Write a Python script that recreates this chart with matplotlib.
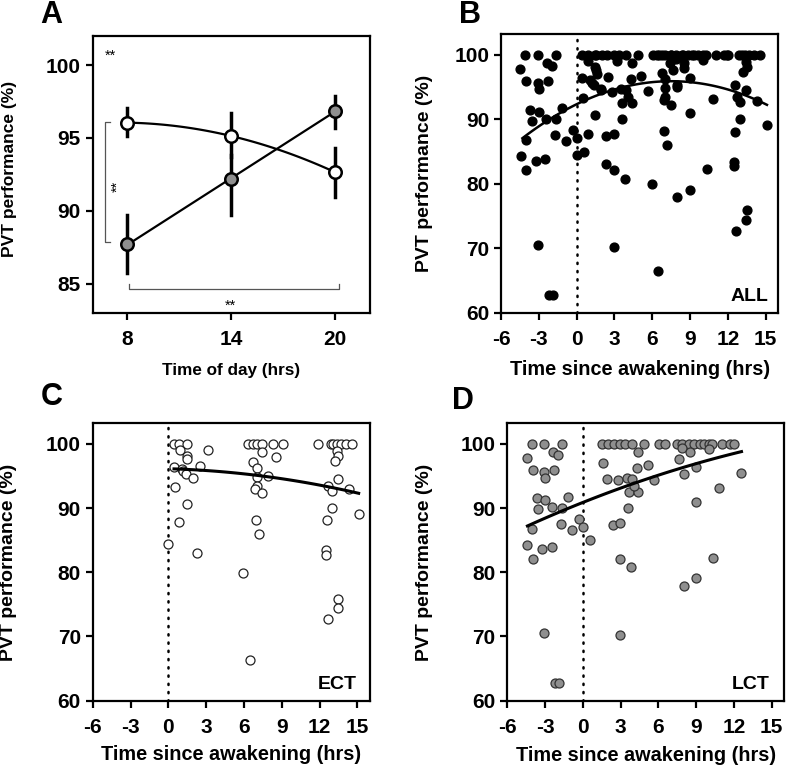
import matplotlib
matplotlib.use("Agg")
import matplotlib.pyplot as plt
import numpy as np

plt.rcParams['font.family'] = ['Liberation Sans', 'DejaVu Sans']
plt.rcParams['axes.unicode_minus'] = False

# Panel A: means and error bars by time of day
tod = [8, 14, 20]
ect_mean = [96.05, 95.13, 92.64]
ect_lo = [95.13, 93.7, 90.92]
ect_hi = [97.04, 96.7, 94.29]
lct_mean = [87.7, 92.17, 96.86]
lct_lo = [85.73, 89.7, 95.71]
lct_hi = [89.7, 93.8, 97.91]

# ECT individual points (time since awakening, PVT %)
ect_x = [0.45, 0.87, 1.46, 0.93, 3.17, 1.46, 1.5, 0.45, 1.06, 1.19, 1.4, 1.94, 2.52,
         0.53, 1.46, 0.87, 0.0, 2.3,
         6.35, 6.75, 7.0, 7.46, 8.34, 9.13, 7.4, 8.52, 6.75, 7.0, 7.0, 7.94, 7.0, 6.9,
         7.46, 6.96, 7.2, 5.95, 6.48,
         11.9, 12.9, 13.1, 13.35, 13.7, 14.1, 14.55, 13.4, 13.5, 13.23, 13.44, 12.7,
         12.97, 14.3, 15.1, 12.97, 12.57, 12.5, 12.5, 13.5, 13.44, 12.65]
ect_y = [100, 100, 100, 99.1, 99.1, 98.1, 97.7, 96.4, 96.1, 95.7, 95.3, 94.7, 96.5,
         93.25, 90.7, 87.8, 84.45, 83.0,
         100, 100, 100, 100, 100, 100, 98.7, 97.9, 97.25, 96.3, 94.8, 95.0, 93.4, 93.0,
         92.3, 88.2, 86.0, 79.9, 66.4,
         100, 100, 100, 100, 100, 100, 100, 98.96, 98.1, 97.3, 94.6, 93.5,
         92.7, 92.9, 89.1, 90.0, 88.1, 83.4, 82.7, 75.9, 74.4, 72.7]

# LCT individual points
lct_x = [-4.06, -3.05, -1.67,
         1.55, 1.99, 2.44, 2.93, 3.38, 3.9, 4.83,
         6.02, 6.56, 7.48, 7.88, 8.41, 8.81, 9.34, 9.6, 10.0, 10.27, 11.06, 11.72, 12.04,
         -4.46, -2.34, -1.99, -3.98, -3.05, -3.0, -2.26,
         -3.66, -3.0, -3.53, -2.42, -1.15, -1.67,
         -4.0, -1.75, -0.88, -0.29, 0.05, 0.58,
         -4.4, -3.26, -2.47, -3.98,
         -3.05, -2.2, -1.86,
         1.59, 1.91, 2.78, 3.5, 3.9, 3.63, 4.37, 4.1, 4.3, 4.37,
         3.6, 2.36, 2.97, 2.97, 3.84, 2.97,
         5.14, 5.67,
         7.88, 8.48, 10.0, 7.61, 9.02, 8.0, 12.57, 10.84, 9.02,
         8.0, 8.99, 10.34]
lct_y = [100, 100, 100,
         100, 100, 100, 100, 100, 100, 100,
         100, 100, 100, 100, 100, 100, 100, 100, 100, 100, 100, 100, 100,
         97.8, 98.7, 98.3, 96.0, 95.6, 94.7, 96.0,
         91.5, 91.2, 89.8, 90.1, 91.7, 90.0,
         86.8, 87.5, 86.6, 88.3, 87.1, 85.0,
         84.3, 83.6, 83.9, 82.1,
         70.5, 62.7, 62.8,
         97.0, 94.6, 94.3, 94.7, 94.6, 92.5, 92.5, 93.4, 96.2, 98.7,
         90.0, 87.4, 87.7, 82.1, 80.8, 70.2,
         96.7, 94.4,
         99.3, 98.8, 99.2, 97.6, 96.4, 95.3, 95.4, 93.1, 91.0,
         77.9, 79.1, 82.3]

# fitted curves (anchor points)
fit_all_x = [-4.3, 0, 7.6, 15.1]
fit_all_y = [87.2, 92.1, 96.1, 92.2]
fit_ect_x = [0.45, 7.0, 15.1]
fit_ect_y = [96.1, 95.1, 92.3]
fit_lct_x = [-4.4, 0, 6.0, 12.6]
fit_lct_y = [87.2, 90.9, 95.1, 98.8]

xticks_tsa = [-6, -3, 0, 3, 6, 9, 12, 15]
yticks_tsa = [60, 70, 80, 90, 100]

gray = '#8f8f8f'
W, H = 787, 768
fig = plt.figure(figsize=(W / 100, H / 100), dpi=100)


def box(ax):
    for s in ax.spines.values():
        s.set_linewidth(1.6)
    ax.tick_params(direction='out', length=5, width=1.6)
    ax.tick_params(axis='x', pad=7.5)
    ax.tick_params(axis='y', pad=3.5)
    for lab in ax.get_xticklabels() + ax.get_yticklabels():
        lab.set_fontweight('bold')


def ax_px(l, t, r, b):
    return fig.add_axes([l / W, 1 - b / H, (r - l) / W, (b - t) / H])


# ---- Panel A
axA = ax_px(92.7, 36, 370, 312.7)
axA.set_xlim(6, 22)
axA.set_ylim(83, 102)
axA.set_xticks(tod)
axA.set_yticks([85, 90, 95, 100])
axA.tick_params(labelsize=15)
xs = np.linspace(8, 20, 100)
axA.plot(xs, np.polyval(np.polyfit(tod, ect_mean, 2), xs), color='black', lw=1.6, zorder=2)
axA.plot(xs, np.polyval(np.polyfit(tod, lct_mean, 1), xs), color='black', lw=1.6, zorder=2)
for i in range(3):
    axA.plot([tod[i], tod[i]], [ect_lo[i], ect_hi[i]], color='black', lw=2.5, zorder=1)
    axA.plot([tod[i], tod[i]], [lct_lo[i], lct_hi[i]], color='black', lw=2.5, zorder=1)
axA.plot(tod, ect_mean, 'o', ms=9, mfc='white', mec='black', mew=1.8, zorder=3)
axA.plot(tod, lct_mean, 'o', ms=9, mfc=gray, mec='black', mew=1.8, zorder=3)
# significance brackets
axA.plot([7.0, 6.73, 6.73, 7.0], [96.1, 96.1, 87.84, 87.84], color='#555555', lw=0.9)
axA.plot([8.1, 8.1, 20.2, 20.2], [84.95, 84.61, 84.61, 84.95], color='#555555', lw=0.9)
axA.text(7.0, 100.65, '**', fontsize=10.5, ha='center', va='center')
axA.text(7.45, 91.65, '**', fontsize=10.5, ha='center', va='center', rotation=90)
axA.text(13.95, 83.5, '**', fontsize=10.5, ha='center', va='center')
axA.set_ylabel('PVT performance (%)', fontsize=12.5, fontweight='bold')
axA.set_xlabel('Time of day (hrs)', fontsize=12.3, fontweight='bold')
axA.yaxis.set_label_coords(-0.273, 0.521)
axA.xaxis.set_label_coords(0.5, -0.182)
box(axA)


def tsa_panel(ax, label, lx, yl_x, xl_y):
    ax.set_xlim(-6, 16)
    ax.set_ylim(60, 103.2)
    ax.set_xticks(xticks_tsa)
    ax.set_yticks(yticks_tsa)
    ax.tick_params(labelsize=15)
    ax.axvline(0, color='black', lw=1.8, linestyle=(0, (0.5, 2.8)), dash_capstyle='round', zorder=1)
    ax.text(lx, 0.042, label, transform=ax.transAxes, ha='right', va='baseline',
            fontsize=14, fontweight='bold')
    ax.set_ylabel('PVT performance (%)', fontsize=14, fontweight='bold')
    ax.set_xlabel('Time since awakening (hrs)', fontsize=14.3, fontweight='bold')
    ax.yaxis.set_label_coords(yl_x, 0.5)
    ax.xaxis.set_label_coords(0.5, xl_y)
    box(ax)


# ---- Panel B (all subjects)
axB = ax_px(501, 34.3, 778.3, 312.7)
axB.scatter(ect_x + lct_x, ect_y + lct_y, s=40, color='black', zorder=3)
xs = np.linspace(fit_all_x[0], fit_all_x[-1], 100)
axB.plot(xs, np.polyval(np.polyfit(fit_all_x, fit_all_y, 2), xs), color='black', lw=1.8, zorder=4)
tsa_panel(axB, 'ALL', 0.963, -0.245, -0.170)

# ---- Panel C (ECT)
axC = ax_px(92.7, 423.3, 370, 700.7)
axC.scatter(ect_x, ect_y, s=42, facecolor='white', edgecolor='#222222', lw=0.9, zorder=3)
xs = np.linspace(fit_ect_x[0], fit_ect_x[-1], 100)
axC.plot(xs, np.polyval(np.polyfit(fit_ect_x, fit_ect_y, 2), xs), color='black', lw=2.2, zorder=4)
tsa_panel(axC, 'ECT', 0.952, -0.273, -0.160)

# ---- Panel D (LCT)
axD = ax_px(507.3, 423.3, 784.3, 700.7)
axD.scatter(lct_x, lct_y, s=42, facecolor=gray, edgecolor='#333333', lw=0.9, zorder=3)
xs = np.linspace(fit_lct_x[0], fit_lct_x[-1], 100)
axD.plot(xs, np.polyval(np.polyfit(fit_lct_x, fit_lct_y, 2), xs), color='black', lw=2.2, zorder=4)
tsa_panel(axD, 'LCT', 0.948, -0.269, -0.162)

# panel letters
for lab, x, y in [('A', 51.7, 15), ('B', 470, 15), ('C', 51.7, 397), ('D', 463, 401)]:
    fig.text(x / W, 1 - y / H, lab, fontsize=22, fontweight='bold', ha='center', va='center')

fig.savefig('out.png', dpi=100)
